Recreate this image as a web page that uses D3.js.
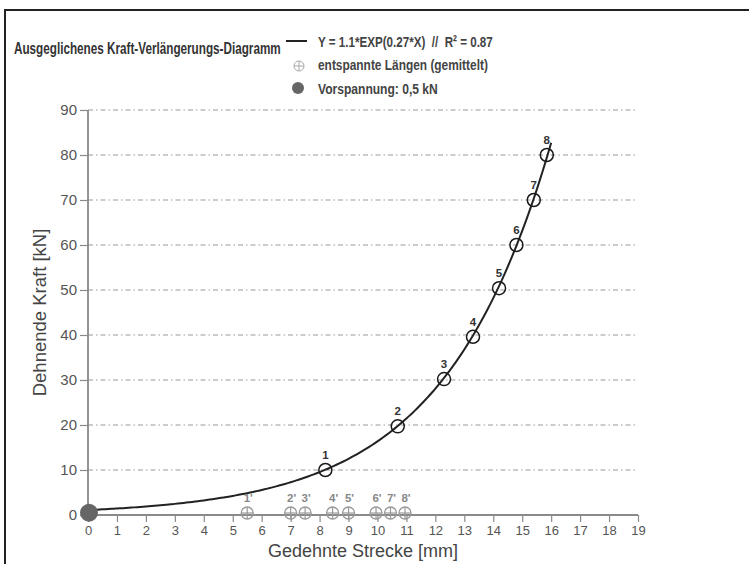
<!DOCTYPE html>
<html>
<head>
<meta charset="utf-8">
<script src="https://cdn.jsdelivr.net/npm/d3@7"></script>
<style>
  body { margin: 0; background: #fff; }
  svg { display: block; font-family: "Liberation Sans", Arial, sans-serif; }
</style>
</head>
<body>
<main></main>
<script>
const WIDTH = 749
const HEIGHT = 564

// measured (loaded) points
const pointLabels = ['1', '2', '3', '4', '5', '6', '7', '8']
const loadedX = [8.2, 10.7, 12.3, 13.3, 14.2, 14.8, 15.4, 15.85]
const loadedY = [10, 19.7, 30.2, 39.6, 50.4, 60, 70, 80]

// relaxed lengths (averaged), sitting on the x axis
const relaxedLabels = ["1'", "2'", "3'", "4'", "5'", "6'", "7'", "8'"]
const relaxedX = [5.5, 7.0, 7.5, 8.45, 9.0, 9.95, 10.45, 10.95]
const relaxedY = [0, 0, 0, 0, 0, 0, 0, 0]

// preload point
const preloadX = [0]
const preloadY = [0.5]

// fitted curve Y = a*EXP(b*X), drawn from 0 to fitEnd
const fitA = 1.1
const fitB = 0.27
const fitEnd = 16

const xTicks = d3.range(0, 20)
const yTicks = d3.range(0, 100, 10)

const legendTexts = ['Y = 1.1*EXP(0.27*X)  //  R² = 0.87', 'entspannte Längen (gemittelt)', 'Vorspannung: 0,5 kN']

const svg = d3.select('main').append('svg')
  .attr('width', WIDTH)
  .attr('height', HEIGHT)

// frame
svg.append('rect')
  .attr('x', 5).attr('y', 10)
  .attr('width', 800).attr('height', 600)
  .attr('fill', '#fff')
  .attr('stroke', '#222')
  .attr('stroke-width', 2)

const x = d3.scaleLinear().domain([0, 19]).range([88, 638])
const y = d3.scaleLinear().domain([0, 90]).range([515, 110])

// gridlines (dash-dot)
svg.append('g')
  .selectAll('line')
  .data(yTicks.filter(d => d > 0))
  .enter()
  .append('line')
  .attr('x1', x(0)).attr('x2', x(19))
  .attr('y1', d => y(d)).attr('y2', d => y(d))
  .attr('stroke', '#9a9a9a')
  .attr('stroke-width', 1.2)
  .attr('stroke-dasharray', '5,3,1.5,3')

// y axis
const yAxis = svg.append('g')
  .attr('transform', `translate(${x(0)},0)`)
  .call(d3.axisLeft(y).tickValues(yTicks).tickSize(8).tickPadding(3).tickFormat(d3.format('d')))
yAxis.select('.domain').remove()
yAxis.selectAll('.tick line').attr('stroke', '#8a8a8a').attr('stroke-width', 1.2)
yAxis.selectAll('.tick text')
  .attr('font-size', 15)
  .attr('fill', '#555')
  .attr('font-family', '"Liberation Sans", Arial, sans-serif')
yAxis.append('line')
  .attr('x1', 0).attr('x2', 0)
  .attr('y1', y(90)).attr('y2', y(0))
  .attr('stroke', '#8a8a8a')
  .attr('stroke-width', 1.8)

// x axis
const xAxis = svg.append('g')
  .attr('transform', `translate(0,${y(0)})`)
  .call(d3.axisBottom(x).tickValues(xTicks).tickSize(7).tickPadding(4).tickFormat(d3.format('d')))
xAxis.select('.domain').remove()
xAxis.selectAll('.tick line').attr('stroke', '#8a8a8a').attr('stroke-width', 1.2)
xAxis.selectAll('.tick text')
  .attr('font-size', 13)
  .attr('fill', '#555')
  .attr('font-family', '"Liberation Sans", Arial, sans-serif')
xAxis.append('line')
  .attr('x1', x(0)).attr('x2', x(19))
  .attr('y1', 0).attr('y2', 0)
  .attr('stroke', '#8a8a8a')
  .attr('stroke-width', 1.8)

// axis titles
svg.append('text')
  .attr('x', x(9.5)).attr('y', 557)
  .attr('text-anchor', 'middle')
  .attr('font-size', 18)
  .attr('fill', '#444')
  .text('Gedehnte Strecke [mm]')

svg.append('text')
  .attr('transform', `translate(46,${(y(0) + y(90)) / 2}) rotate(-90)`)
  .attr('text-anchor', 'middle')
  .attr('font-size', 18.5)
  .attr('fill', '#444')
  .text('Dehnende Kraft [kN]')

// fitted curve
const fitXs = d3.range(0, fitEnd + 0.001, 0.1)
const line = d3.line()
  .x(d => x(d))
  .y(d => y(fitA * Math.exp(fitB * d)))
  .curve(d3.curveMonotoneX)
svg.append('path')
  .datum(fitXs)
  .attr('d', line)
  .attr('fill', 'none')
  .attr('stroke', '#222')
  .attr('stroke-width', 2)

// relaxed length markers (circle with cross)
const relaxed = relaxedX.map((d, i) => ({ x: d, y: relaxedY[i], label: relaxedLabels[i] }))
const rg = svg.selectAll('.relaxed')
  .data(relaxed)
  .enter()
  .append('g')
  .attr('class', 'relaxed')
  .attr('transform', d => `translate(${x(d.x)},${y(d.y) - 2})`)
rg.append('circle')
  .attr('r', 6)
  .attr('fill', 'none')
  .attr('stroke', '#999')
  .attr('stroke-width', 1.3)
rg.append('line')
  .attr('x1', 0).attr('x2', 0).attr('y1', -6).attr('y2', 6)
  .attr('stroke', '#999').attr('stroke-width', 1.2)
rg.append('line')
  .attr('x1', -6).attr('x2', 6).attr('y1', 0).attr('y2', 0)
  .attr('stroke', '#999').attr('stroke-width', 1.2)
rg.append('text')
  .attr('x', 1).attr('y', -11)
  .attr('text-anchor', 'middle')
  .attr('font-size', 11.5)
  .attr('font-weight', 'bold')
  .attr('fill', '#888')
  .text(d => d.label)

// measured points
const points = loadedX.map((d, i) => ({ x: d, y: loadedY[i], label: pointLabels[i] }))
svg.selectAll('.pt')
  .data(points)
  .enter()
  .append('circle')
  .attr('class', 'pt')
  .attr('cx', d => x(d.x))
  .attr('cy', d => y(d.y))
  .attr('r', 6.5)
  .attr('fill', 'none')
  .attr('stroke', '#1a1a1a')
  .attr('stroke-width', 1.5)
svg.selectAll('.ptlabel')
  .data(points)
  .enter()
  .append('text')
  .attr('class', 'ptlabel')
  .attr('x', d => x(d.x))
  .attr('y', d => y(d.y) - 11)
  .attr('text-anchor', 'middle')
  .attr('font-size', 11.5)
  .attr('font-weight', 'bold')
  .attr('fill', '#333')
  .text(d => d.label)

// preload point
svg.selectAll('.pre')
  .data(preloadX.map((d, i) => ({ x: d, y: preloadY[i] })))
  .enter()
  .append('circle')
  .attr('class', 'pre')
  .attr('cx', d => x(d.x) + 1)
  .attr('cy', d => y(d.y))
  .attr('r', 9)
  .attr('fill', '#666')

// squeeze a text horizontally so it takes the given width (narrow font look)
const squeeze = function (sel, left, base, width) {
  const natural = sel.node().getComputedTextLength()
  const k = Math.min(1, width / natural)
  sel.attr('x', 0).attr('y', 0)
    .attr('transform', `translate(${left},${base}) scale(${k},1)`)
}

// title
svg.append('text')
  .attr('font-size', 16.5)
  .attr('font-weight', 'bold')
  .attr('fill', '#333')
  .text('Ausgeglichenes Kraft-Verlängerungs-Diagramm')
  .call(squeeze, 14, 54, 267)

// legend
const legend = svg.append('g')
legend.append('line')
  .attr('x1', 286).attr('x2', 307).attr('y1', 41).attr('y2', 41)
  .attr('stroke', '#222').attr('stroke-width', 2)
legend.append('circle')
  .attr('cx', 299).attr('cy', 66).attr('r', 5)
  .attr('fill', 'none').attr('stroke', '#aaa').attr('stroke-width', 1)
legend.append('line')
  .attr('x1', 299).attr('x2', 299).attr('y1', 61).attr('y2', 71)
  .attr('stroke', '#aaa').attr('stroke-width', 1)
legend.append('line')
  .attr('x1', 294).attr('x2', 304).attr('y1', 66).attr('y2', 66)
  .attr('stroke', '#aaa').attr('stroke-width', 1)
legend.append('circle')
  .attr('cx', 298).attr('cy', 88).attr('r', 6)
  .attr('fill', '#666')

const legendWidths = [175, 170, 120]
legendTexts.forEach((t, i) => {
  legend.append('text')
    .attr('class', 'legtext')
    .attr('font-size', 15.5)
    .attr('font-weight', 'bold')
    .attr('fill', '#444')
    .style('white-space', 'pre')
    .text(t)
    .call(squeeze, 318, 46.5 + i * 23.5, legendWidths[i])
})
</script>
</body>
</html>
